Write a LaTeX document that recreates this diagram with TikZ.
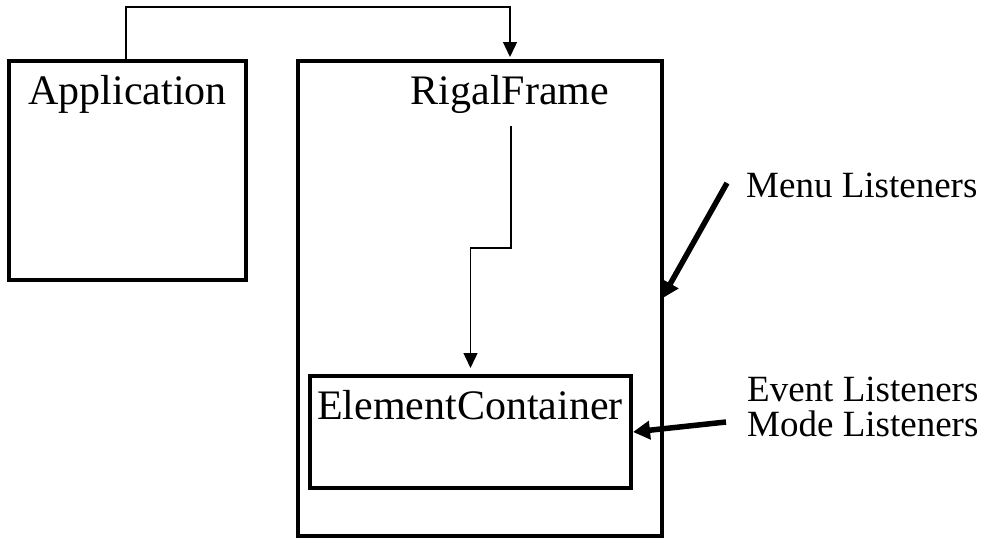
\documentclass[tikz,border=0pt]{standalone}
\usepackage{fontspec}
\setmainfont{Liberation Serif}
\usetikzlibrary{arrows.meta,calc}

\begin{document}
\begin{tikzpicture}[x=1pt,y=-1pt,
  box/.style={draw, line width=3.5pt, rectangle, inner sep=0pt, outer sep=0pt},
  boxlabel/.style={inner sep=0pt, font=\fontsize{42}{48}\selectfont},
  sidelabel/.style={inner sep=0pt, anchor=base west, font=\fontsize{37}{35}\selectfont},
  flow/.style={line width=1.4pt, -{Triangle[length=15pt,width=14pt]}},
  listen/.style={line width=5.5pt, -{Triangle[length=17pt,width=18pt]}}]
  \useasboundingbox (0,0) rectangle (983,538);

  % boxes
  \node[box, minimum width=237pt, minimum height=219pt] (app) at (127.5,170.5) {};
  \node[box, minimum width=364pt, minimum height=475pt] (rigal) at (480,298.5) {};
  \node[box, line width=4pt, minimum width=321pt, minimum height=112pt] (inner) at (470.5,432) {};

  % box titles
  \node[boxlabel, anchor=base] (applbl) at (127.5,104) {Application};
  \node[boxlabel, anchor=base] (rigallbl) at (510,104) {RigalFrame};
  \node[boxlabel, anchor=base] (ecl) at (470,419) {ElementContainer};

  % listener notes
  \node[sidelabel] (menu) at (746,197) {Menu Listeners};
  \node[sidelabel] (event) at (747,401) {Event Listeners};
  \node[sidelabel] (mode) at (747,436) {Mode Listeners};

  % creation links
  \draw[flow, shorten >=4pt] ([xshift=-1.5pt]app.north) -- ++(0,-54) -| (rigallbl.north |- rigal.north);
  \draw[flow, shorten >=8pt] ($(rigallbl.base)+(1,22)$) -- ++(0,122) -| (inner.north);

  % listeners
  \draw[listen] ($(menu.base west)+(-19,-14)$) -- (rigal.east);
  \draw[listen] ($(event.base west)+(-21,21)$) -- ([xshift=2pt]inner.east);
\end{tikzpicture}
\end{document}
